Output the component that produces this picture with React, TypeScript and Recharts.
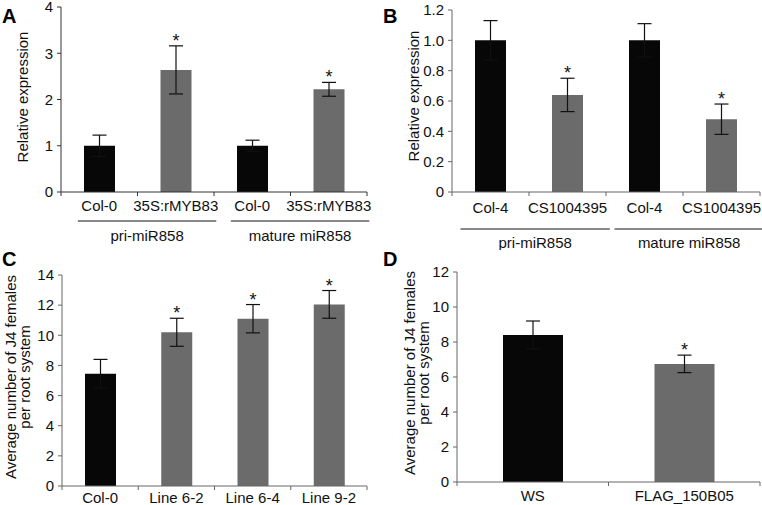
import React from "react";
import { Bar, BarChart, Cell, ErrorBar, LabelList, XAxis, YAxis } from "recharts";

const FONT = '"Liberation Sans", Arial, Helvetica, sans-serif';
const BLACK = "#070707";
const GRAY = "#6b6b6b";
const TICK = 4;
const TEXT = 15;

// Panel A: miR858 expression, 35S:rMYB83 lines
const aNames = ["Col-0", "35S:rMYB83", "Col-0", "35S:rMYB83"];
const aGroups = ["pri-miR858", "pri-miR858", "mature miR858", "mature miR858"];
const aValues = [1.0, 2.64, 1.0, 2.22];
const aErrors = [0.23, 0.52, 0.12, 0.15];
const aSignificant = [false, true, false, true];
const aTicks = [0, 1, 2, 3, 4];

// Panel B: miR858 expression, CS1004395 mutant
const bNames = ["Col-4", "CS1004395", "Col-4", "CS1004395"];
const bGroups = ["pri-miR858", "pri-miR858", "mature miR858", "mature miR858"];
const bValues = [1.0, 0.64, 1.0, 0.48];
const bErrors = [0.13, 0.11, 0.11, 0.1];
const bSignificant = [false, true, false, true];
const bTicks = [0, 0.2, 0.4, 0.6, 0.8, 1.0, 1.2];

// Panel C: J4 females, overexpression lines
const cNames = ["Col-0", "Line 6-2", "Line 6-4", "Line 9-2"];
const cValues = [7.45, 10.2, 11.1, 12.05];
const cErrors = [0.95, 0.93, 0.94, 0.92];
const cSignificant = [false, true, true, true];
const cTicks = [0, 2, 4, 6, 8, 10, 12, 14];

// Panel D: J4 females, FLAG_150B05
const dNames = ["WS", "FLAG_150B05"];
const dValues = [8.4, 6.75];
const dErrors = [0.8, 0.5];
const dSignificant = [false, true];
const dTicks = [0, 2, 4, 6, 8, 10, 12];

const relTitle = ["Relative expression"];
const j4Title = ["Average number of J4 females", "per root system"];

type Row = { id: string; name: string; group: string; value: number; err: number; sig: boolean };

function makeRows(names: string[], values: number[], errors: number[], sig: boolean[], groups?: string[]): Row[] {
  return names.map((name, i) => ({
    id: String(i),
    name,
    group: groups ? groups[i] : "",
    value: values[i],
    err: errors[i],
    sig: sig[i],
  }));
}

type Cfg = {
  letter: string;
  left: number;
  top: number;
  width: number;
  height: number;
  mTop: number;
  mRight: number;
  yWidth: number;
  xHeight: number;
  ticks: number[];
  fmt?: (v: number) => string;
  barSize: number;
  title: string[];
  titleX: number[];
  titleY: number;
  labelY: number;
  lineY: number;
  groupY: number;
  lineIn: number;
  lineOut: number;
  axis: string;
};

function CategoryTick(props: any) {
  const { x, y, rows, band, cfg } = props;
  const i = props.index ?? props.payload?.index ?? 0;
  const row: Row = rows[i];
  const axisY = y - TICK;
  const half = band / 2;
  const prev = rows[i - 1];
  const startsGroup = row.group && (!prev || prev.group !== row.group);
  let span = 1;
  while (rows[i + span] && rows[i + span].group === row.group) span++;
  const gx0 = x - half * cfg.lineIn;
  const gx1 = x + (span - 1) * band + half * cfg.lineOut;
  return (
    <g>
      <line x1={x - half} x2={x - half} y1={axisY} y2={axisY + TICK} stroke={cfg.axis} />
      {i === rows.length - 1 && (
        <line x1={x + half} x2={x + half} y1={axisY} y2={axisY + TICK} stroke={cfg.axis} />
      )}
      <text x={x} y={axisY + cfg.labelY} textAnchor="middle" fontSize={TEXT} fill="#111" fontFamily={FONT}>
        {row.name}
      </text>
      {startsGroup && (
        <g>
          <line x1={gx0} x2={gx1} y1={axisY + cfg.lineY} y2={axisY + cfg.lineY} stroke="#111" strokeWidth={1} />
          <text
            x={(gx0 + gx1) / 2}
            y={axisY + cfg.groupY}
            textAnchor="middle"
            fontSize={TEXT}
            fill="#111"
            fontFamily={FONT}
          >
            {row.group}
          </text>
        </g>
      )}
    </g>
  );
}

function Star(props: any) {
  const { x, y, width, height, index, rows } = props;
  const row: Row | undefined = rows[index];
  if (!row || !row.sig) return null;
  const perUnit = height / row.value;
  const top = y - row.err * perUnit;
  return (
    <text x={x + width / 2} y={top + 1} textAnchor="middle" fontSize={18} fill="#111" fontFamily={FONT}>
      *
    </text>
  );
}

function Panel({ cfg, rows }: { cfg: Cfg; rows: Row[] }) {
  const plotW = cfg.width - cfg.mRight - cfg.yWidth;
  const band = plotW / rows.length;
  const domain: [number, number] = [0, cfg.ticks[cfg.ticks.length - 1]];
  return (
    <div style={{ position: "absolute", left: cfg.left, top: cfg.top }}>
      <BarChart
        width={cfg.width}
        height={cfg.height}
        data={rows}
        margin={{ top: cfg.mTop, right: cfg.mRight, bottom: 0, left: 0 }}
      >
        <XAxis
          dataKey="id"
          height={cfg.xHeight}
          interval={0}
          tickSize={TICK}
          tickMargin={0}
          tickLine={false}
          axisLine={{ stroke: cfg.axis }}
          tick={(p: any) => <CategoryTick {...p} rows={rows} band={band} cfg={cfg} />}
        />
        <XAxis
          xAxisId="top"
          dataKey="id"
          orientation="top"
          height={0}
          tick={false}
          tickLine={false}
          axisLine={{ stroke: "#333" }}
        />
        <YAxis
          width={cfg.yWidth}
          domain={domain}
          ticks={cfg.ticks}
          interval={0}
          tickSize={TICK}
          tickMargin={4}
          tickFormatter={cfg.fmt}
          tick={{ fontSize: TEXT, fill: "#111", fontFamily: FONT }}
          tickLine={{ stroke: cfg.axis }}
          axisLine={{ stroke: cfg.axis }}
          label={() => (
            <g>
              {cfg.title.map((line, k) => (
                <text
                  key={k}
                  x={cfg.titleX[k]}
                  y={cfg.titleY}
                  transform={`rotate(-90, ${cfg.titleX[k]}, ${cfg.titleY})`}
                  textAnchor="middle"
                  dominantBaseline="central"
                  fontSize={15}
                  fill="#111"
                  fontFamily={FONT}
                >
                  {line}
                </text>
              ))}
            </g>
          )}
        />
        <YAxis
          yAxisId="right"
          orientation="right"
          width={0}
          type="number"
          domain={domain}
          tick={false}
          tickLine={false}
          axisLine={{ stroke: "#999" }}
        />
        <Bar dataKey="value" barSize={cfg.barSize} isAnimationActive={false}>
          {rows.map((r) => (
            <Cell key={r.id} fill={r.sig ? GRAY : BLACK} />
          ))}
          <ErrorBar dataKey="err" width={7} stroke="#111" strokeWidth={1.2} />
          <LabelList dataKey="value" content={(p: any) => <Star {...p} rows={rows} />} />
        </Bar>
      </BarChart>
      <div
        style={{
          position: "absolute",
          left: 2,
          top: cfg.top === 0 ? 6 : -1,
          fontFamily: FONT,
          fontWeight: "bold",
          fontSize: 20,
          lineHeight: "20px",
          color: "#000",
        }}
      >
        {cfg.letter}
      </div>
    </div>
  );
}

const cfgA: Cfg = {
  letter: "A", left: 0, top: 0, width: 381, height: 250, mTop: 7, mRight: 14, yWidth: 61, xHeight: 58,
  ticks: aTicks, barSize: 31, title: relTitle, titleX: [22], titleY: 97,
  labelY: 19, lineY: 29, groupY: 49, lineIn: 0.56, lineOut: 1.06, axis: "#333",
};
const cfgB: Cfg = {
  letter: "B", left: 381, top: 0, width: 381, height: 250, mTop: 10, mRight: 2, yWidth: 71, xHeight: 58,
  ticks: bTicks, fmt: (v: number) => (v === 0 ? "0" : v.toFixed(1)), barSize: 31, title: relTitle,
  titleX: [32], titleY: 96, labelY: 21, lineY: 37, groupY: 56, lineIn: 0.78, lineOut: 1.1, axis: "#666",
};
const cfgC: Cfg = {
  letter: "C", left: 0, top: 250, width: 381, height: 255, mTop: 25, mRight: 14, yWidth: 62, xHeight: 19,
  ticks: cTicks, barSize: 31, title: j4Title, titleX: [10, 24], titleY: 127,
  labelY: 17, lineY: 0, groupY: 0, lineIn: 0, lineOut: 0, axis: "#666",
};
const cfgD: Cfg = {
  letter: "D", left: 381, top: 250, width: 381, height: 255, mTop: 22, mRight: 2, yWidth: 76, xHeight: 23,
  ticks: dTicks, barSize: 60, title: j4Title, titleX: [28, 42], titleY: 123,
  labelY: 19, lineY: 0, groupY: 0, lineIn: 0, lineOut: 0, axis: "#666",
};

export default function App() {
  return (
    <div
      style={{
        position: "absolute",
        left: 0,
        top: 0,
        width: 762,
        height: 505,
        background: "#fff",
        fontFamily: FONT,
        overflow: "hidden",
      }}
    >
      <Panel cfg={cfgA} rows={makeRows(aNames, aValues, aErrors, aSignificant, aGroups)} />
      <Panel cfg={cfgB} rows={makeRows(bNames, bValues, bErrors, bSignificant, bGroups)} />
      <Panel cfg={cfgC} rows={makeRows(cNames, cValues, cErrors, cSignificant)} />
      <Panel cfg={cfgD} rows={makeRows(dNames, dValues, dErrors, dSignificant)} />
    </div>
  );
}
